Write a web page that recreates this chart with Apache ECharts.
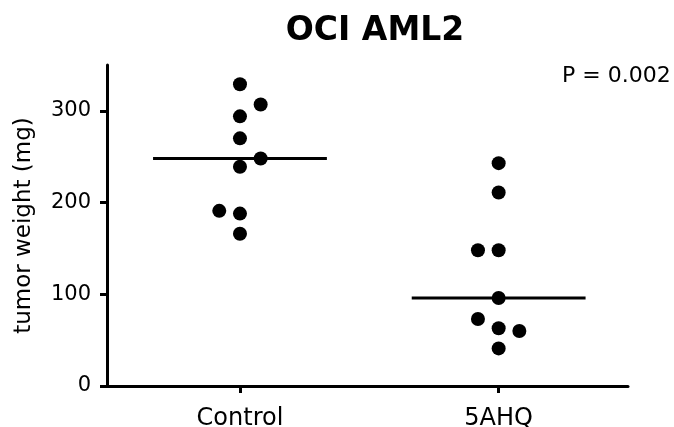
<!DOCTYPE html>
<html><head><meta charset="utf-8">
<script src="https://cdn.jsdelivr.net/npm/echarts@6/dist/echarts.min.js"></script>
<style>html,body{margin:0;padding:0;background:#fff}#c{width:674px;height:427px}</style>
</head><body><div id="c"></div>
<script>
const categories = ['Control', '5AHQ'];
const controlValues = [329, 307, 294, 270, 248, 239, 191, 188, 166];
const controlSlots = [0, 1, 0, 0, 1, 0, -1, 0, 0];
const ahqValues = [243, 211, 148, 148, 96, 73, 63, 60, 41];
const ahqSlots = [0, 0, -1, 0, 0, -1, 0, 1, 0];
const medians = [248, 96];
const yTicks = [0, 100, 200, 300];
const titleText = 'OCI AML2';
const pText = 'P = 0.002';
const yName = 'tumor weight (mg)';

const FONT = 'DejaVu Sans';
const slotW = 0.08;
const halfLine = 0.336;
const groups = [controlValues, ahqValues];
const slots = [controlSlots, ahqSlots];
const pts = [];
groups.forEach((vals, g) => vals.forEach((v, i) => pts.push([g + 1 + slots[g][i] * slotW, v])));
const lineSeries = medians.map((m, g) => ({
  type: 'line', data: [[g + 1 - halfLine, m], [g + 1 + halfLine, m]],
  symbol: 'none', lineStyle: {color: '#000', width: 3, opacity: 1}, silent: true, z: 1
}));

const chart = echarts.init(document.getElementById('c'), null, {renderer: 'canvas'});
chart.setOption({
  animation: false,
  backgroundColor: '#fff',
  grid: {left: 107, right: 46, top: 65, bottom: 41, outerBoundsMode: 'none'},
  xAxis: {
    type: 'value', min: 0.486, max: 2.5,
    splitLine: {show: false},
    axisLine: {show: true, onZero: false, lineStyle: {color: '#000', width: 3}},
    axisTick: {show: true, length: 7, lineStyle: {color: '#000', width: 3}, customValues: [1, 2]},
    axisLabel: {color: '#000', fontFamily: FONT, fontSize: 24, margin: 21, customValues: [1, 2],
      formatter: v => categories[Math.round(v) - 1] || ''}
  },
  yAxis: {
    type: 'value', min: 0, max: 350,
    name: yName, nameLocation: 'middle', nameGap: 71, nameRotate: 90,
    nameTextStyle: {color: '#000', fontFamily: FONT, fontSize: 23},
    splitLine: {show: false},
    axisLine: {show: true, lineStyle: {color: '#000', width: 3}},
    axisTick: {show: true, length: 7, lineStyle: {color: '#000', width: 3}, customValues: yTicks},
    axisLabel: {color: '#000', fontFamily: FONT, fontSize: 21, margin: 16, customValues: yTicks}
  },
  graphic: [
    {type: 'text', x: 375, y: 15, style: {text: titleText, fill: '#000', font: 'bold 33px "DejaVu Sans"', textAlign: 'center', textVerticalAlign: 'top'}},
    {type: 'text', x: 562, y: 65, style: {text: pText, fill: '#000', font: '22px "DejaVu Sans"', textAlign: 'left', textVerticalAlign: 'top'}}
  ],
  series: [
    {type: 'scatter', data: pts, symbol: 'circle', symbolSize: 14, itemStyle: {color: '#000', opacity: 1}, z: 3}
  ].concat(lineSeries)
});
</script></body></html>
